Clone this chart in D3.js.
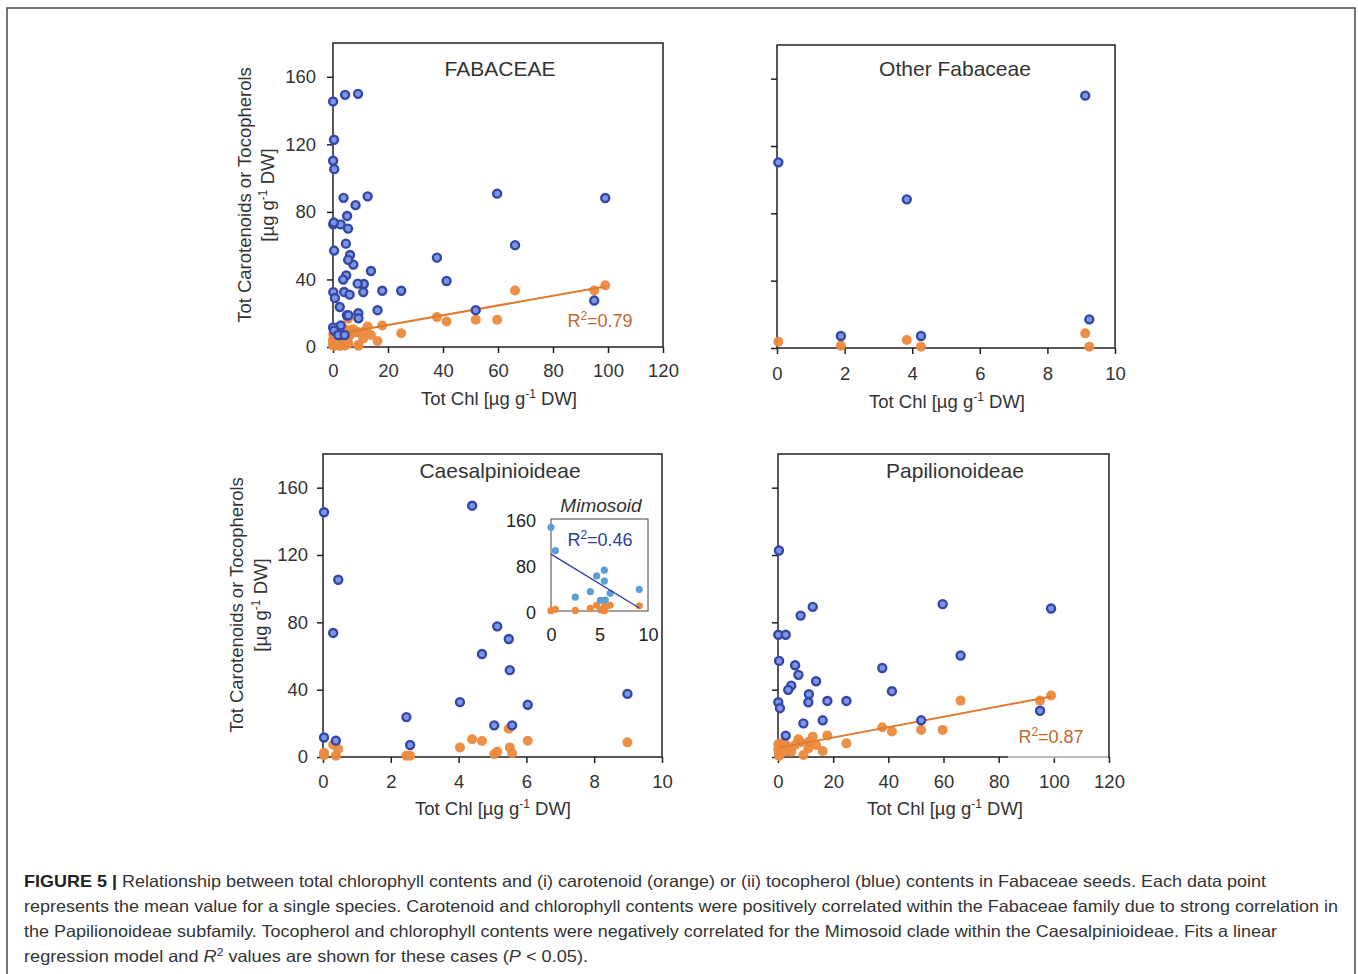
<!DOCTYPE html>
<html><head><meta charset="utf-8">
<script src="https://cdn.jsdelivr.net/npm/d3@7"></script>
<style>
body{margin:0;background:#fff;}
svg{display:block;font-family:"Liberation Sans",Arial,Helvetica,sans-serif;}
</style></head><body>
<svg id="c" width="1358" height="974"></svg>
<script>
// ---------------- DATA ----------------
// Papilionoideae species: total chlorophyll, tocopherols (blue), carotenoids (orange)
const papChl = [0.36, 12.6, 59.7, 99.0, 8.2, 0.1, 2.8, 0.4, 66.2, 6.2, 7.4, 37.8, 13.8, 4.8, 3.7, 41.3, 11.2, 11.0, 17.9, 24.8, 0.1, 0.7, 95.0, 16.2, 51.9, 9.2, 2.8];
const papToc = [122.7, 89.2, 90.8, 88.2, 84.0, 72.6, 72.6, 57.1, 60.3, 54.5, 48.8, 52.9, 45.0, 42.4, 39.9, 39.1, 37.3, 32.5, 33.3, 33.3, 32.5, 29.0, 27.5, 21.8, 21.8, 20.0, 12.7];
const papCar = [2.0, 12.1, 16.1, 36.5, 8.7, 4.6, 7.1, 0.6, 33.5, 7.1, 10.5, 17.7, 7.1, 3.2, 5.8, 15.1, 9.1, 5.0, 12.7, 8.1, 7.5, 8.1, 33.5, 3.6, 16.1, 1.2, 3.2];

// Caesalpinioideae species
const caesChl = [0.03, 0.03, 0.30, 0.38, 0.45, 2.46, 2.57, 4.04, 4.40, 4.69, 5.05, 5.14, 5.48, 5.51, 5.58, 6.04, 8.98];
const caesToc = [145.4, 11.6, 73.7, 9.7, 105.3, 23.7, 7.1, 32.6, 149.3, 61.2, 18.8, 77.6, 70.1, 51.6, 18.8, 31.0, 37.5];
const caesCar = [2.5, 1.0, 7.3, 0.8, 4.7, 0.8, 0.8, 5.7, 10.5, 9.5, 1.6, 3.1, 16.8, 5.7, 2.2, 9.7, 8.7];

// Other Fabaceae species
const othChl = [0.04, 1.89, 3.84, 4.26, 9.12, 9.24];
const othToc = [110.3, 7.1, 88.3, 7.1, 149.9, 17.0];
const othCar = [3.7, 1.4, 4.8, 0.8, 8.7, 0.8];

// Mimosoid clade (inset)
const mimChl = [0, 0.45, 2.5, 4.05, 4.7, 5.5, 5.5, 5.1, 5.6, 6.1, 9.1];
const mimToc = [145.6, 105, 24, 33.6, 61, 71, 52, 18.6, 19, 30.8, 37.7];
const mimCar = [0.5, 3, 1, 4.5, 10, 8, 0.5, 2, 5, 10, 9];

// Whole family = union of the three groups
const fabChl = papChl.concat(caesChl, othChl);
const fabToc = papToc.concat(caesToc, othToc);
const fabCar = papCar.concat(caesCar, othCar);

// Linear fits: [intercept, slope]
const fabFit = [7.3, 0.288];
const papFit = [5.4, 0.308];
const mimFit = [99, -10.3];
const fabR2 = "0.79", papR2 = "0.87", mimR2 = "0.46";

// Tick labels
const bigChlTicks = [0, 20, 40, 60, 80, 100, 120];
const smallChlTicks = [0, 2, 4, 6, 8, 10];
const yTicks = [0, 40, 80, 120, 160];
const insetXTicks = [0, 5, 10];
const insetYTicks = [0, 80, 160];

const titles = ["FABACEAE", "Other Fabaceae", "Caesalpinioideae", "Papilionoideae"];
const captionLines = [
  " Relationship between total chlorophyll contents and (i) carotenoid (orange) or (ii) tocopherol (blue) contents in Fabaceae seeds. Each data point",
  "represents the mean value for a single species. Carotenoid and chlorophyll contents were positively correlated within the Fabaceae family due to strong correlation in",
  "the Papilionoideae subfamily. Tocopherol and chlorophyll contents were negatively correlated for the Mimosoid clade within the Caesalpinioideae. Fits a linear"
];

// ---------------- DRAWING ----------------
const svg = d3.select("#c");
const INK = "#231f20", TXT = "#333";
const ORANGE = "#eb8a3e", ORANGE_TXT = "#c4682f";
const BLUE_STROKE = "#3646a8", BLUE_FILL = "#7a98e2";
const FONT = 18.5;

svg.append("rect").attr("x", 7).attr("y", 8).attr("width", 1348).attr("height", 1000)
  .attr("fill", "none").attr("stroke", "#4a4a4a").attr("stroke-width", 1.5);

function unitLabel(sel) {
  sel.append("tspan").text("[µg g");
  sel.append("tspan").attr("font-size", 12).attr("dy", -7).text("-1");
  sel.append("tspan").attr("dy", 7).text(" DW]");
}

function panel(cfg) {
  const x = d3.scaleLinear().domain(cfg.xDomain).range([cfg.x0, cfg.x1]);
  const y = d3.scaleLinear().domain([0, 180]).range([cfg.y0, cfg.y1]);
  const g = svg.append("g");

  // axes
  const gx = g.append("g").attr("transform", `translate(0,${cfg.y0})`)
    .call(d3.axisBottom(x).tickValues(cfg.xTicks).tickSize(6).tickPadding(cfg.xPad).tickFormat(d3.format("d")));
  const gy = g.append("g").attr("transform", `translate(${cfg.x0},0)`)
    .call(d3.axisLeft(y).tickValues(yTicks).tickSize(6).tickPadding(cfg.yPad)
      .tickFormat(cfg.yLabels ? d3.format("d") : () => ""));
  [gx, gy].forEach(a => {
    a.select(".domain").remove();
    a.selectAll("line").attr("stroke", INK).attr("stroke-width", 1.5);
    a.selectAll("text").attr("fill", TXT).attr("font-size", FONT).attr("font-family", null);
  });

  g.append("rect").attr("x", cfg.x0).attr("y", cfg.y1)
    .attr("width", cfg.x1 - cfg.x0).attr("height", cfg.y0 - cfg.y1)
    .attr("fill", "none").attr("stroke", INK).attr("stroke-width", 1.5);

  if (cfg.fade) {
    g.append("rect").attr("x", cfg.fade[0]).attr("y", cfg.y0 - 1.5)
      .attr("width", cfg.fade[1] - cfg.fade[0]).attr("height", 3)
      .attr("fill", "#fff").attr("opacity", 0.6);
  }

  // title
  g.append("text").attr("x", cfg.tx).attr("y", cfg.ty).attr("text-anchor", "middle")
    .attr("dy", "0.35em").attr("font-size", 21).attr("fill", TXT).text(cfg.title);

  // x label
  const xl = g.append("text").attr("x", cfg.xlx).attr("y", cfg.xly).attr("text-anchor", "middle")
    .attr("dy", "0.35em").attr("font-size", FONT).attr("fill", TXT);
  xl.append("tspan").text("Tot Chl ");
  unitLabel(xl);

  // y label
  if (cfg.ylab) {
    const [lx1, lx2, ly] = cfg.ylab;
    g.append("text").attr("transform", `translate(${lx1},${ly}) rotate(-90)`)
      .attr("text-anchor", "middle").attr("dy", "0.35em").attr("font-size", FONT).attr("fill", TXT)
      .text("Tot Carotenoids or Tocopherols");
    const t2 = g.append("text").attr("transform", `translate(${lx2},${ly}) rotate(-90)`)
      .attr("text-anchor", "middle").attr("dy", "0.35em").attr("font-size", FONT).attr("fill", TXT);
    unitLabel(t2);
  }

  // carotenoids (orange)
  g.append("g").selectAll("circle").data(d3.range(cfg.chl.length)).join("circle")
    .attr("cx", i => x(cfg.chl[i])).attr("cy", i => y(cfg.car[i])).attr("r", 5)
    .attr("fill", ORANGE).attr("fill-opacity", 0.95);

  // fit line
  if (cfg.fit) {
    const ext = d3.extent(cfg.chl);
    g.append("path").datum(ext)
      .attr("d", d3.line().x(d => x(d)).y(d => y(cfg.fit[0] + cfg.fit[1] * d)))
      .attr("stroke", "#e07a30").attr("stroke-width", 2).attr("fill", "none");
    const r = g.append("text").attr("x", cfg.r2[0]).attr("y", cfg.r2[1]).attr("text-anchor", "middle")
      .attr("dy", "0.35em").attr("font-size", 18).attr("fill", ORANGE_TXT);
    r.append("tspan").text("R");
    r.append("tspan").attr("font-size", 12).attr("dy", -7).text("2");
    r.append("tspan").attr("dy", 7).text("=" + cfg.r2txt);
  }

  // tocopherols (blue)
  g.append("g").selectAll("circle").data(d3.range(cfg.chl.length)).join("circle")
    .attr("cx", i => x(cfg.chl[i])).attr("cy", i => y(cfg.toc[i])).attr("r", 4)
    .attr("fill", BLUE_FILL).attr("stroke", BLUE_STROKE).attr("stroke-width", 2.4);
}

panel({x0: 333, x1: 663, y0: 347, y1: 43, xDomain: [0, 120], xTicks: bigChlTicks, yLabels: true, yPad: 11, xPad: 11,
  title: titles[0], tx: 500, ty: 69, xlx: 499, xly: 399, ylab: [245, 268, 195],
  chl: fabChl, toc: fabToc, car: fabCar, fit: fabFit, r2: [600, 321], r2txt: fabR2});
panel({x0: 777, x1: 1115, y0: 348, y1: 45, xDomain: [0, 10], xTicks: smallChlTicks, yLabels: false, yPad: 8, xPad: 13,
  title: titles[1], tx: 955, ty: 69, xlx: 947, xly: 402,
  chl: othChl, toc: othToc, car: othCar});
panel({x0: 323, x1: 662, y0: 757, y1: 454, xDomain: [0, 10], xTicks: smallChlTicks, yLabels: true, yPad: 9, xPad: 12,
  title: titles[2], tx: 500, ty: 471, xlx: 493, xly: 809, ylab: [237, 261, 605],
  chl: caesChl, toc: caesToc, car: caesCar});
panel({x0: 778, x1: 1109, y0: 757, y1: 454, xDomain: [0, 120], xTicks: bigChlTicks, yLabels: false, yPad: 8, xPad: 12,
  title: titles[3], tx: 955, ty: 471, xlx: 945, xly: 809,
  chl: papChl, toc: papToc, car: papCar, fit: papFit, r2: [1051, 737], r2txt: papR2, fade: [1008, 1108]});

// ---------------- INSET: Mimosoid ----------------
(function () {
  const x = d3.scaleLinear().domain([0, 10]).range([551, 648]);
  const y = d3.scaleLinear().domain([0, 160]).range([611, 519]);
  const g = svg.append("g");
  g.append("rect").attr("x", 551).attr("y", 519).attr("width", 97).attr("height", 92)
    .attr("fill", "#fff").attr("stroke", "#444").attr("stroke-width", 1);
  const gx = g.append("g").attr("transform", "translate(0,611)")
    .call(d3.axisBottom(x).tickValues(insetXTicks).tickSize(0).tickPadding(17).tickFormat(d3.format("d")));
  const gy = g.append("g").attr("transform", "translate(551,0)")
    .call(d3.axisLeft(y).tickValues(insetYTicks).tickSize(0).tickPadding(15).tickFormat(d3.format("d")));
  [gx, gy].forEach(a => {
    a.select(".domain").remove();
    a.selectAll("text").attr("fill", "#222").attr("font-size", 18).attr("font-family", null);
  });
  gy.selectAll(".tick text").attr("dy", "0.42em");
  g.append("text").attr("x", 601).attr("y", 505).attr("text-anchor", "middle").attr("dy", "0.35em")
    .attr("font-size", 19).attr("font-style", "italic").attr("fill", TXT).text("Mimosoid");
  g.append("g").selectAll("circle").data(d3.range(mimChl.length)).join("circle")
    .attr("cx", i => x(mimChl[i])).attr("cy", i => y(mimCar[i])).attr("r", 3.6).attr("fill", "#ee8a3c");
  g.append("g").selectAll("circle").data(d3.range(mimChl.length)).join("circle")
    .attr("cx", i => x(mimChl[i])).attr("cy", i => y(mimToc[i])).attr("r", 3.6).attr("fill", "#5b9fd9");
  const ext = d3.extent(mimChl);
  g.append("path").datum(ext)
    .attr("d", d3.line().x(d => x(d)).y(d => y(mimFit[0] + mimFit[1] * d)))
    .attr("stroke", "#2e3c9c").attr("stroke-width", 1.3).attr("fill", "none");
  const r = g.append("text").attr("x", 600).attr("y", 540).attr("text-anchor", "middle")
    .attr("dy", "0.35em").attr("font-size", 18).attr("fill", "#2e3c9c");
  r.append("tspan").text("R");
  r.append("tspan").attr("font-size", 12).attr("dy", -7).text("2");
  r.append("tspan").attr("dy", 7).text("=" + mimR2);
})();

// ---------------- CAPTION ----------------
const cap = svg.append("g").attr("font-size", 16.5).attr("fill", "#333");
const l1 = cap.append("text").attr("x", 24).attr("y", 887).attr("textLength", 1242).attr("lengthAdjust", "spacingAndGlyphs");
l1.append("tspan").attr("font-weight", "bold").attr("fill", "#222").text("FIGURE 5 |");
l1.append("tspan").text(captionLines[0]);
cap.append("text").attr("x", 24).attr("y", 912).attr("textLength", 1314).attr("lengthAdjust", "spacingAndGlyphs").text(captionLines[1]);
cap.append("text").attr("x", 24).attr("y", 937).attr("textLength", 1253).attr("lengthAdjust", "spacingAndGlyphs").text(captionLines[2]);
const l4 = cap.append("text").attr("x", 24).attr("y", 962).attr("textLength", 564).attr("lengthAdjust", "spacingAndGlyphs");
l4.append("tspan").text("regression model and ");
l4.append("tspan").attr("font-style", "italic").text("R");
l4.append("tspan").attr("font-size", 11).attr("dy", -6).text("2");
l4.append("tspan").attr("dy", 6).text(" values are shown for these cases (");
l4.append("tspan").attr("font-style", "italic").text("P");
l4.append("tspan").text(" < 0.05).");
</script>
</body></html>
